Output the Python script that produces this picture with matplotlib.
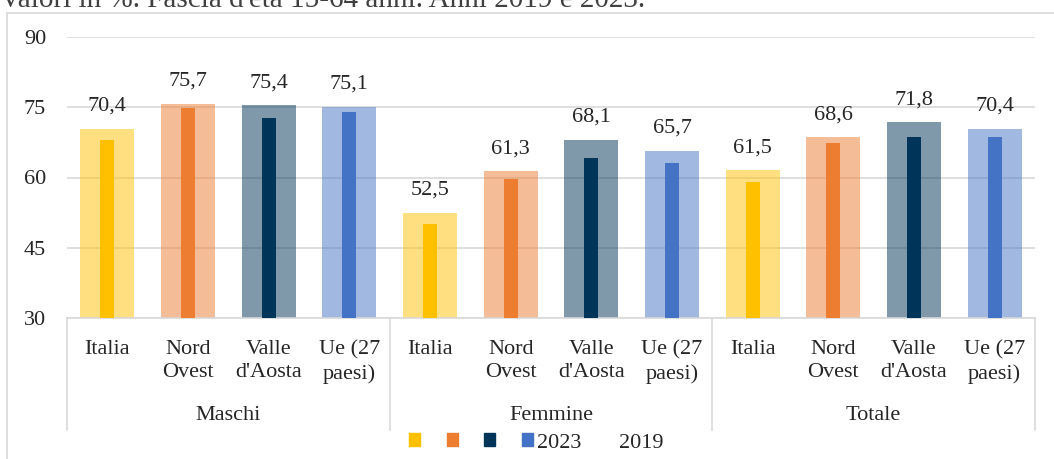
import matplotlib
matplotlib.use('Agg')
import matplotlib.pyplot as plt
from matplotlib.patches import Patch, Rectangle
from matplotlib.transforms import blended_transform_factory
import numpy as np

plt.rcParams['font.family'] = ['Liberation Serif', 'DejaVu Serif']

title = "Valori in %. Fascia d'età 15-64 anni. Anni 2019 e 2023."
categories = ['Italia', 'Nord\nOvest', "Valle\nd'Aosta", 'Ue (27\npaesi)']
groups = ['Maschi', 'Femmine', 'Totale']

# 2023 (wide, light bars with labels)
v2023_maschi = [70.4, 75.7, 75.4, 75.1]
v2023_femmine = [52.5, 61.3, 68.1, 65.7]
v2023_totale = [61.5, 68.6, 71.8, 70.4]
# 2019 (narrow, dark bars)
v2019_maschi = [68.0, 74.9, 72.8, 73.9]
v2019_femmine = [50.0, 59.7, 64.2, 63.2]
v2019_totale = [59.1, 67.3, 68.6, 68.6]

colors = ['#FFC000', '#ED7D31', '#003459', '#4472C4']
text_col = '#262626'
grid_col = '#D9D9D9'
fs = 16

W, H = 1054, 459
fig = plt.figure(figsize=(W / 100, H / 100), dpi=100)
ax = fig.add_axes([67 / W, 1 - 318 / H, (1035 - 67) / W, (318 - 37) / H])

v2023 = v2023_maschi + v2023_femmine + v2023_totale
v2019 = v2019_maschi + v2019_femmine + v2019_totale
x = np.arange(len(v2023))
cols = colors * len(groups)

ax.set_axisbelow(True)
ax.yaxis.grid(True, color=grid_col, linewidth=1.2)
ax.bar(x, [v - 30 for v in v2023], bottom=30, width=0.67, color=cols, alpha=0.5, zorder=2)
ax.bar(x, [v - 30 for v in v2019], bottom=30, width=0.17, color=cols, zorder=3)

for xi, v in zip(x, v2023):
    ax.annotate(f'{v:.1f}'.replace('.', ','), (xi, v), xytext=(0, 13),
                textcoords='offset points', ha='center', va='baseline',
                fontsize=fs, color=text_col)

ax.set_ylim(30, 90)
ax.set_xlim(-0.5, len(x) - 0.5)
ax.set_yticks([30, 45, 60, 75, 90])
ax.tick_params(axis='y', length=0, pad=15, labelsize=fs, labelcolor=text_col)
ax.set_xticks(x)
ax.set_xticklabels(categories * len(groups), fontsize=fs, color=text_col, linespacing=1.3)
ax.tick_params(axis='x', length=0, pad=16)
for s in ['top', 'right', 'left']:
    ax.spines[s].set_visible(False)
ax.spines['bottom'].set_color(grid_col)
ax.spines['bottom'].set_linewidth(1.2)

# group separators and group labels
tr = blended_transform_factory(ax.transData, ax.transAxes)
ybot = -(430 - 318) / (318 - 37)
for i in range(len(groups) + 1):
    xs = i * len(categories) - 0.5
    ax.plot([xs, xs], [0, ybot], transform=tr, color=grid_col, lw=1.2, clip_on=False)
for i, g in enumerate(groups):
    xc = i * len(categories) + (len(categories) - 1) / 2
    ax.text(xc, -(416 - 318) / (318 - 37), g, transform=tr, ha='center', va='center',
            fontsize=fs, color=text_col)

# outer chart border
fig.add_artist(Rectangle((7 / W, -0.2), 1.2, 1.2 - 13 / H, transform=fig.transFigure,
                         fill=False, edgecolor=grid_col, lw=1.2))

# title cut at top
fig.text(0.0, 1 - 7 / H, title, ha='left', va='baseline', fontsize=21, color='#404040')

handles = [Patch(color=c) for c in colors] + [Patch(color='none')]
labels = ['', '', '', '2023', '2019']
fig.legend(handles, labels, loc='center', bbox_to_anchor=(536 / W, 1 - 443 / H), ncol=5,
           frameon=False, fontsize=fs, handlelength=0.5, handleheight=0.5,
           handletextpad=0.15, columnspacing=1.05, labelcolor=text_col)

fig.savefig('out.png', dpi=100)
